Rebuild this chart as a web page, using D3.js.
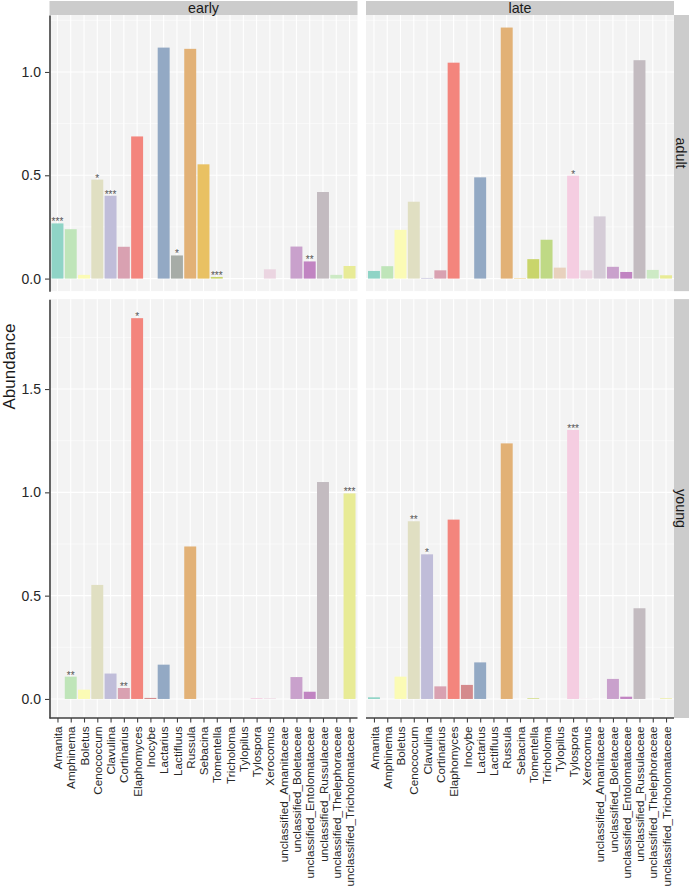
<!DOCTYPE html>
<html>
<head>
<meta charset="utf-8">
<script src="https://cdn.jsdelivr.net/npm/d3@7/dist/d3.min.js"></script>
<style>
  body { margin: 0; background: #fff; }
  svg { display: block; }
  svg text { font-family: "Liberation Sans", Arial, Helvetica, sans-serif; }
</style>
</head>
<body>
<svg id="chart" width="690" height="889"></svg>
<script>
// ---------- data ----------
const categories = ["Amanita","Amphinema","Boletus","Cenococcum","Clavulina","Cortinarius",
  "Elaphomyces","Inocybe","Lactarius","Lactifluus","Russula","Sebacina","Tomentella",
  "Tricholoma","Tylopilus","Tylospora","Xerocomus","unclassified_Amanitaceae",
  "unclassified_Boletaceae","unclassified_Entolomataceae","unclassified_Russulaceae",
  "unclassified_Thelephoraceae","unclassified_Tricholomataceae"];

const columnLabels = ["early", "late"];
const rowLabels = ["adult", "young"];

const earlyAdult = [0.267,0.239,0.018,0.479,0.401,0.154,0.688,0,1.118,0.112,1.112,0.553,0.008,0,0,0,0.045,0,0.155,0.083,0.419,0.018,0.061];
const lateAdult  = [0.037,0.060,0.236,0.372,0.003,0.040,1.045,0,0.490,0,1.215,0.002,0.094,0.188,0.053,0.498,0.040,0.301,0.057,0.032,1.057,0.042,0.016];
const earlyYoung = [0,0.108,0.045,0.552,0.123,0.053,1.843,0.005,0.166,0,0.738,0,0,0,0,0.004,0.003,0,0.106,0.035,1.050,0,0.995];
const lateYoung  = [0.008,0,0.108,0.860,0.700,0.061,0.868,0.068,0.177,0,1.237,0,0.003,0,0,1.302,0.001,0,0.097,0.011,0.439,0,0.003];

const sigEarlyAdult = ["***","","","*","***","","","","","*","","","***","","","","","","","**","","",""];
const sigLateAdult  = ["","","","","","","","","","","","","","","","*","","","","","","",""];
const sigEarlyYoung = ["","**","","","","**","*","","","","","","","","","","","","","","","","***"];
const sigLateYoung  = ["","","","**","*","","","","","","","","","","","***","","","","","","",""];

const colors = ["#8fd4c6","#bfe5b9","#fbfbb5","#e0dfc2","#c0bdd9","#d9a1b1","#f3857d","#d48a8c",
  "#93a9c4","#a7aca7","#e2b176","#e9c163","#c9d56b","#bfd985","#e8d1bd","#f5cde1","#ebd5e1",
  "#d5ccd7","#c9a1cc","#c184c2","#c3bbc0","#cdeac5","#e8eb96"];

const yTickValues = [0, 0.5, 1.0, 1.5];

// panels [row][col]
const panelValues = [[earlyAdult, lateAdult], [earlyYoung, lateYoung]];
const panelSig = [[sigEarlyAdult, sigLateAdult], [sigEarlyYoung, sigLateYoung]];

// ---------- layout ----------
const svg = d3.select("#chart");
const colX = [[49.5, 357.5], [366, 674]];
const plotTop = 15, plotBottom = 718, rowGap = 8;
const stripH = 14, stripW = 15;

const rowMax = panelValues.map(r => d3.max(r.flat()));
const rowSpan = rowMax.map(m => m * 1.1);
const pxPerUnit = (plotBottom - plotTop - rowGap) / d3.sum(rowSpan);
const rowY = [];
let yy = plotTop;
rowSpan.forEach((s, i) => { rowY.push([yy, yy + s * pxPerUnit]); yy += s * pxPerUnit + rowGap; });

const yScales = rowMax.map((m, i) => d3.scaleLinear().domain([-0.05 * m, 1.05 * m]).range([rowY[i][1], rowY[i][0]]));
const xScales = colX.map(c => d3.scalePoint().domain(categories).range(c).padding(0.6));

const colorScale = d3.scaleOrdinal().domain(categories).range(colors);

// ---------- panels ----------
rowLabels.forEach((rl, r) => {
  columnLabels.forEach((cl, c) => {
    const x = xScales[c], y = yScales[r];
    const step = x.step();
    const g = svg.append("g");
    const [x0, x1] = colX[c];
    const [ty, by] = rowY[r];
    g.append("rect").attr("x", x0).attr("y", ty).attr("width", x1 - x0).attr("height", by - ty).attr("fill", "#f3f3f3");
    // minor horizontal grid
    const dom = y.domain();
    const minor = d3.range(0.25, dom[1], 0.5).filter(v => v > dom[0]);
    g.selectAll(".minor").data(minor).join("line")
      .attr("x1", x0).attr("x2", x1).attr("y1", d => y(d)).attr("y2", d => y(d))
      .attr("stroke", "#ffffff").attr("stroke-width", 0.55);
    const major = yTickValues.filter(v => v >= dom[0] && v <= dom[1]);
    g.selectAll(".major").data(major).join("line")
      .attr("x1", x0).attr("x2", x1).attr("y1", d => y(d)).attr("y2", d => y(d))
      .attr("stroke", "#ffffff").attr("stroke-width", 1.1);
    g.selectAll(".vgrid").data(categories).join("line")
      .attr("x1", d => x(d)).attr("x2", d => x(d)).attr("y1", ty).attr("y2", by)
      .attr("stroke", "#ffffff").attr("stroke-width", 1.1);
    // bars
    const vals = panelValues[r][c];
    const sig = panelSig[r][c];
    g.selectAll(".bar").data(categories).join("rect")
      .attr("x", d => x(d) - step * 0.45)
      .attr("width", step * 0.9)
      .attr("y", (d, i) => y(vals[i]))
      .attr("height", (d, i) => y(0) - y(vals[i]))
      .attr("fill", d => colorScale(d));
    // significance
    g.selectAll(".sig").data(categories).join("text")
      .attr("x", d => x(d))
      .attr("y", (d, i) => y(vals[i]) + 2)
      .attr("text-anchor", "middle")
      .attr("font-size", 10)
      .attr("fill", "#555555")
      .text((d, i) => sig[i]);

    // top strips
    if (r === 0) {
      svg.append("rect").attr("x", x0).attr("y", 1).attr("width", x1 - x0).attr("height", stripH).attr("fill", "#cccccc");
      svg.append("text").attr("x", (x0 + x1) / 2).attr("y", 1 + stripH / 2).attr("dy", "0.36em")
        .attr("text-anchor", "middle").attr("font-size", 14.3).attr("fill", "#1a1a1a").text(cl);
    }
    // right strips
    if (c === 1) {
      svg.append("rect").attr("x", x1).attr("y", ty).attr("width", stripW).attr("height", by - ty).attr("fill", "#cccccc");
      svg.append("text").attr("transform", `translate(${x1 + stripW / 2},${(ty + by) / 2}) rotate(90)`)
        .attr("dy", "0.36em").attr("text-anchor", "middle").attr("font-size", 14.3).attr("fill", "#1a1a1a").text(rl);
    }
    // y axis on left column
    if (c === 0) {
      const ax = svg.append("g").attr("transform", `translate(${x0},0)`)
        .call(d3.axisLeft(y).tickValues(major).tickFormat(d3.format(".1f")).tickSize(4.5).tickSizeOuter(0));
      ax.select(".domain").attr("stroke", "#404040").attr("stroke-width", 1.6);
      ax.selectAll(".tick line").attr("stroke", "#404040").attr("stroke-width", 1.1);
      ax.selectAll(".tick text").attr("font-size", 14).attr("fill", "#262626").attr("x", -8.5);
    }
    // x axis on bottom row
    if (r === 1) {
      const ax = svg.append("g").attr("transform", `translate(0,${by})`)
        .call(d3.axisBottom(x).tickSize(4.5).tickSizeOuter(0));
      ax.select(".domain").attr("stroke", "#404040").attr("stroke-width", 1.6)
        .attr("d", `M${x0},0H${x1}`);
      ax.selectAll(".tick line").attr("stroke", "#404040").attr("stroke-width", 1.1);
      ax.selectAll(".tick text")
        .attr("font-size", 11.7).attr("fill", "#262626")
        .attr("transform", "rotate(-90)")
        .attr("text-anchor", "end")
        .attr("x", -8.5).attr("y", 0).attr("dy", "0.35em");
    }
  });
});

// y axis title
svg.append("text")
  .attr("transform", `translate(${9},${(plotTop + plotBottom) / 2}) rotate(-90)`)
  .attr("text-anchor", "middle").attr("dy", "0.36em")
  .attr("font-size", 17).attr("fill", "#1a1a1a").text("Abundance");
</script>
</body>
</html>
